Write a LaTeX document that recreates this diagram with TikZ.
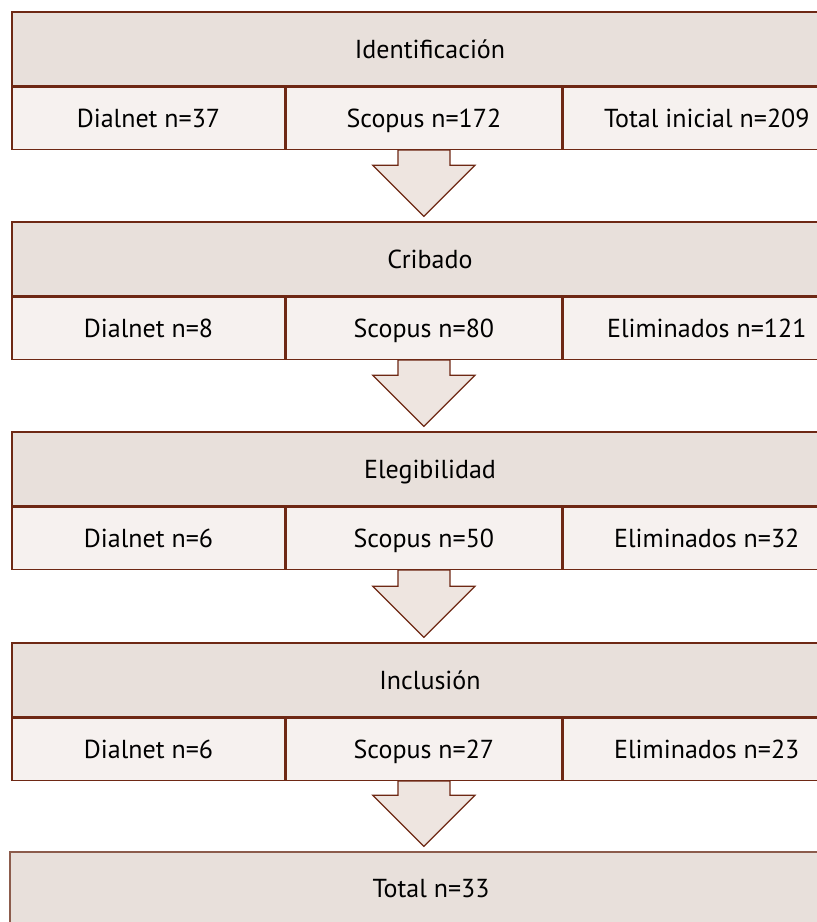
\documentclass[tikz,border=0pt]{standalone}
\usepackage{fontspec}
\setmainfont{PT Sans}
\usetikzlibrary{calc}
\definecolor{borde}{RGB}{110,40,20}
\definecolor{bordeb}{RGB}{140,92,76}
\definecolor{cabeza}{RGB}{232,224,219}
\definecolor{celda}{RGB}{246,241,239}
\definecolor{flechac}{RGB}{238,229,224}
\begin{document}
\begin{tikzpicture}[x=1pt,y=-1pt,
hdr/.style={draw=borde, fill=cabeza, line width=1.4pt, minimum width=836pt, minimum height=74pt, inner sep=0, text height=18pt, text depth=0pt, font=\fontsize{26}{30}\selectfont},
cell/.style={draw=borde, fill=celda, line width=1.4pt, minimum height=62pt, inner sep=0, text height=18pt, text depth=0pt, anchor=north west, font=\fontsize{26}{30}\selectfont},
flecha/.style={draw=borde, fill=flechac, line width=1.2pt}]
	\useasboundingbox (0,0) rectangle (817,922);
	\clip (0,0) rectangle (817,922);
	\node[hdr] (h1) at (430,49) {Identificación};
	\node[cell, minimum width=273pt] (d1) at (h1.south west) {Dialnet n=37};
	\node[cell, minimum width=275pt] (s1) at (d1.north east) {Scopus n=172};
	\node[cell, minimum width=288pt] (e1) at (s1.north east) {Total inicial n=209};

	\node[hdr] (h2) at (430,259) {Cribado};
	\node[cell, minimum width=273pt] (d2) at (h2.south west) {Dialnet n=8};
	\node[cell, minimum width=275pt] (s2) at (d2.north east) {Scopus n=80};
	\node[cell, minimum width=288pt] (e2) at (s2.north east) {Eliminados n=121};

	\node[hdr] (h3) at (430,469) {Elegibilidad};
	\node[cell, minimum width=273pt] (d3) at (h3.south west) {Dialnet n=6};
	\node[cell, minimum width=275pt] (s3) at (d3.north east) {Scopus n=50};
	\node[cell, minimum width=288pt] (e3) at (s3.north east) {Eliminados n=32};

	\node[hdr] (h4) at (430,680) {Inclusión};
	\node[cell, minimum width=273pt] (d4) at (h4.south west) {Dialnet n=6};
	\node[cell, minimum width=275pt] (s4) at (d4.north east) {Scopus n=27};
	\node[cell, minimum width=288pt] (e4) at (s4.north east) {Eliminados n=23};

	\node[hdr, draw=bordeb, minimum width=842pt, minimum height=72pt] (h5) at (431,888) {Total n=33};

	\foreach \i/\j in {1/2,2/3,3/4,4/5} {
		\coordinate (t\i) at (s\i.south |- h\j.north);
		\draw[flecha] ([xshift=-26pt]s\i.south) |- ([xshift=-51pt,yshift=56pt]t\i) -- ([yshift=5pt]t\i) -- ([xshift=51pt,yshift=56pt]t\i) -| ([xshift=26pt]s\i.south) -- cycle;
	}
\end{tikzpicture}
\end{document}
